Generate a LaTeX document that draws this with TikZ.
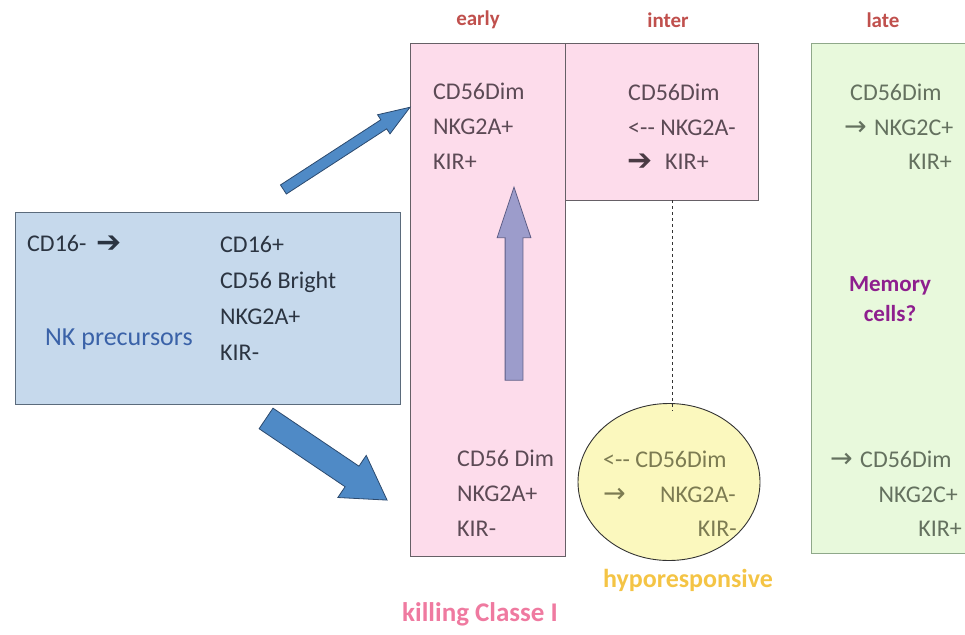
\documentclass[tikz,border=0pt]{standalone}
\usepackage{fontspec}
\setmainfont{Carlito}
\newfontfamily\arrowfont{DejaVu Sans}
\usetikzlibrary{shapes.geometric,shapes.arrows}

\definecolor{precfill}{HTML}{C6D9EC}
\definecolor{precline}{HTML}{5B6B7C}
\definecolor{pinkfill}{HTML}{FDDCEB}
\definecolor{greenfill}{HTML}{E8F9DC}
\definecolor{greenline}{HTML}{8FA88A}
\definecolor{yellowfill}{HTML}{FBF8BE}
\definecolor{boxline}{HTML}{666066}
\definecolor{stagered}{HTML}{C0504D}
\definecolor{memorypurple}{HTML}{8E1F8E}
\definecolor{hypoyellow}{HTML}{F4C445}
\definecolor{killpink}{HTML}{EF7AA0}
\definecolor{precursorblue}{HTML}{3A62A8}
\definecolor{arrowblue}{HTML}{4F8AC6}
\definecolor{arrowblueline}{HTML}{2C4A6E}
\definecolor{arrowlilac}{HTML}{9C9CCB}
\definecolor{arrowlilacline}{HTML}{5E5E86}
\definecolor{pinktext}{HTML}{5C4A55}
\definecolor{greentext}{HTML}{64715F}
\definecolor{yellowtext}{HTML}{7C7B52}
\definecolor{bluetext}{HTML}{2B3441}

\newcommand{\heavyarrow}{{\arrowfont\bfseries\fontsize{30}{30}\selectfont ➔}}
\newcommand{\thinarrow}{{\arrowfont\fontsize{27}{27}\selectfont →}}

\tikzset{
  stage/.style={draw=boxline, line width=0.9pt, inner sep=0pt},
  % multi-line markers are placed by the baseline of their last line
  marker/.style={anchor=base west, inner sep=0pt, align=left,
    font=\fontsize{24}{35}\selectfont},
  rmarker/.style={marker, anchor=base east, align=right},
  stagelabel/.style={inner sep=0pt, text=stagered,
    font=\fontsize{21}{22}\selectfont\bfseries},
  note/.style={inner sep=0pt, font=\fontsize{23}{30}\selectfont\bfseries},
  blockarrow/.style={single arrow, inner xsep=0pt, line width=0.8pt,
    fill=arrowblue, draw=arrowblueline}
}

\begin{document}
\begin{tikzpicture}[x=1pt,y=-1pt]
  \useasboundingbox (0,0) rectangle (965,634);
  \clip (0,0) rectangle (965,634);

  % stage boxes
  \node[stage, fill=precfill, draw=precline, minimum width=385, minimum height=192] (prec) at (207.5,308) {};
  \node[stage, fill=pinkfill, minimum width=155, minimum height=513] (early) at (487.5,299.5) {};
  \node[stage, fill=pinkfill, minimum width=193, minimum height=157] (inter) at (661.5,121.5) {};
  \node[stage, fill=greenfill, draw=greenline, minimum width=175, minimum height=510] (late) at (898.5,298) {};
  \node[stage, ellipse, fill=yellowfill, draw=black!80, minimum width=182, minimum height=157] (hypo) at (669,482) {};
  \draw[dashed, black!80] ([xshift=3pt]hypo.north |- inter.south) -- ([xshift=3pt,yshift=-8pt]hypo.north);

  % stage titles
  \node[stagelabel] (tearly) at (478,20) {early};
  \node[stagelabel] (tinter) at (668,20) {inter};
  \node[stagelabel] (tlate) at (883,20) {late};

  % precursors
  \node[marker, text=bluetext] (cdminus) at (27,251) {CD16-};
  \node[marker, text=bluetext] (cdarrow) at (96,252) {\heavyarrow};
  \node[marker, text=bluetext, font=\fontsize{24}{36}\selectfont] (cdplus) at (220,360) {CD16+\\CD56 Bright\\NKG2A+\\KIR-};
  \node[marker, text=precursorblue, font=\fontsize{26}{30}\selectfont] (nkprec) at (45,345) {NK precursors};

  % early
  \node[marker, text=pinktext] (earlytop) at (433,169) {CD56Dim\\NKG2A+\\KIR+};
  \node[marker, text=pinktext] (earlybot) at (457,536) {CD56 Dim\\NKG2A+\\KIR-};

  % inter
  \node[marker, text=pinktext] (intertop) at (628,135) {CD56Dim\\<{-}{-} NKG2A-};
  \node[marker, text=pinktext!80!black] (interarrow) at (627,170) {\heavyarrow};
  \node[marker, text=pinktext] (interkir) at (665,169) {KIR+};

  % hyporesponsive
  \node[marker, text=yellowtext] (hypocd) at (603,467) {<{-}{-} CD56Dim};
  \node[marker, text=yellowtext] (hypoarrow) at (603,502) {\thinarrow};
  \node[marker, text=yellowtext] (hyponkg) at (660,502) {NKG2A-};
  \node[rmarker, text=yellowtext] (hypokir) at (737,536) {KIR-};

  % late
  \node[marker, text=greentext] (latecd) at (850,100) {CD56Dim};
  \node[marker, text=greentext] (latearrow) at (844,135) {\thinarrow};
  \node[marker, text=greentext] (latenkg) at (874,135) {NKG2C+};
  \node[rmarker, text=greentext] (latekir) at (952,169) {KIR+};
  \node[marker, text=greentext] (latebarrow) at (830,467) {\thinarrow};
  \node[marker, text=greentext] (latebcd) at (860,467) {CD56Dim};
  \node[rmarker, text=greentext] (latebot) at (958,502) {NKG2C+};
  \node[rmarker, text=greentext] (latebkir) at (962,536) {KIR+};

  \node[note, text=memorypurple, align=center] (memory) at (890,299) {Memory\\cells?};

  % footers
  \node[note, text=hypoyellow, font=\fontsize{26}{30}\selectfont\bfseries] (hypolabel) at (688,580) {hyporesponsive};
  \node[note, text=killpink, font=\fontsize{27}{30}\selectfont\bfseries] (killing) at (480,614) {killing Classe I};

  % block arrows
  \node[blockarrow, minimum height=151, inner ysep=5, single arrow head extend=6,
    single arrow tip angle=40, rotate=33] (toearly) at (340.5,152.4) {};
  \node[blockarrow, minimum height=146, inner ysep=12, single arrow head extend=13,
    single arrow tip angle=62, rotate=-34] (todim) at (318,453.5) {};
  \node[blockarrow, fill=arrowlilac, draw=arrowlilacline, minimum height=193, inner ysep=8.5,
    single arrow head extend=8, single arrow tip angle=37, rotate=90] (upward) at (514,297) {};
\end{tikzpicture}
\end{document}
